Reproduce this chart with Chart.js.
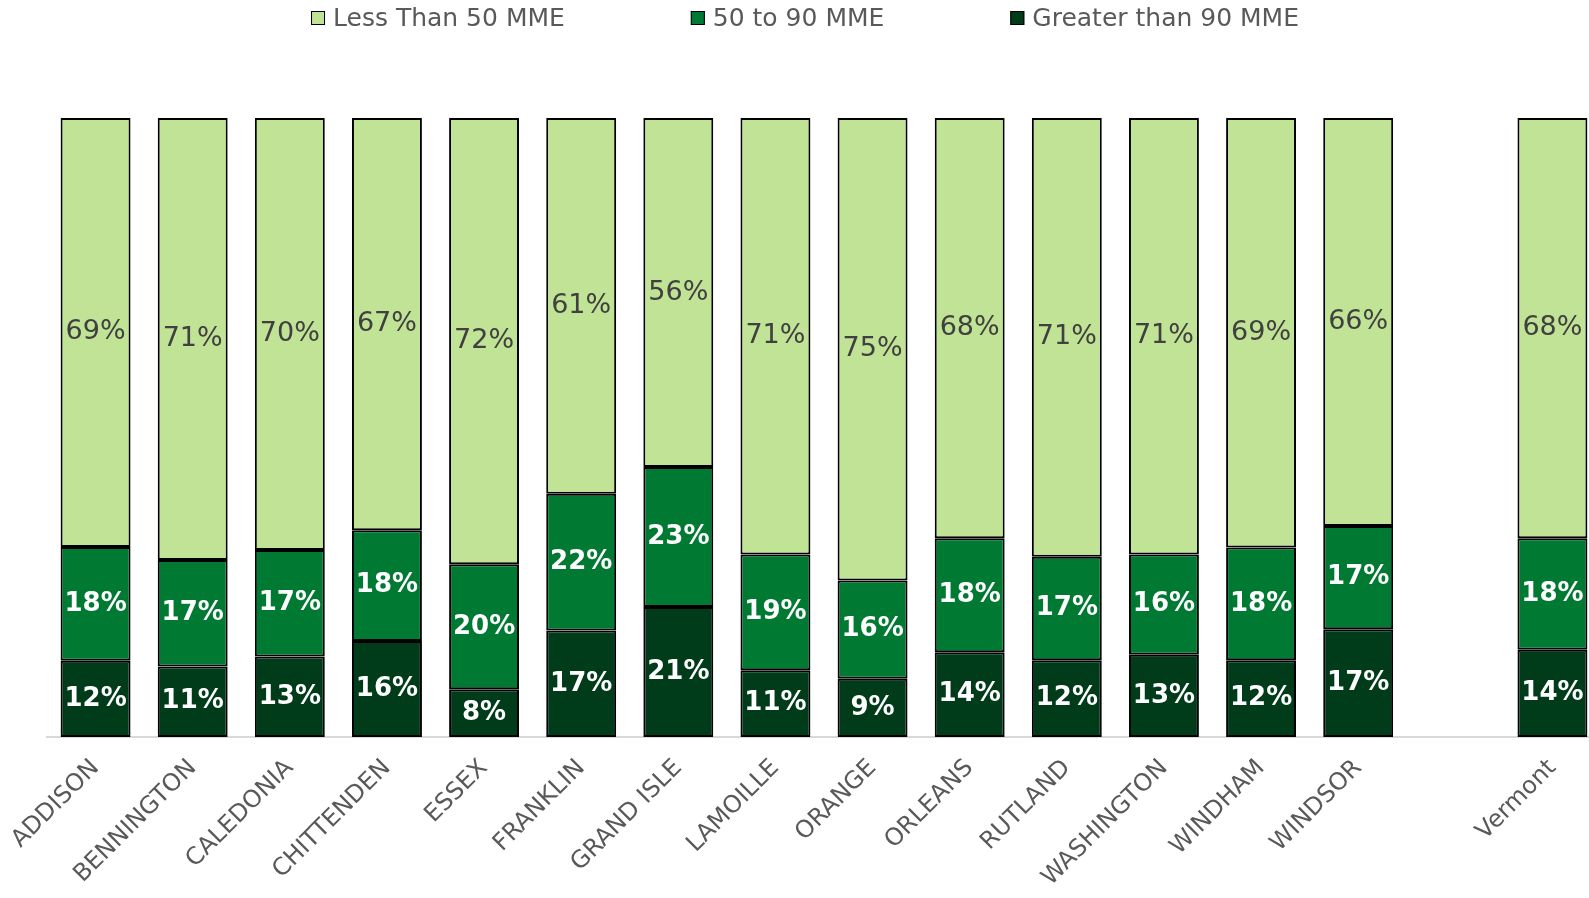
<!DOCTYPE html>
<html>
<head>
<meta charset="utf-8">
<script src="https://cdn.jsdelivr.net/npm/chart.js@4.4.1/dist/chart.umd.min.js"></script>
<style>
  html, body { margin: 0; padding: 0; background: #fff; overflow: hidden; }
  #wrap { width: 1601px; height: 898px; position: relative; }
</style>
</head>
<body>
<div id="wrap"><canvas id="myChart"></canvas></div>
<script>
// counties, with an empty slot before the state total
const counties = ['ADDISON', 'BENNINGTON', 'CALEDONIA', 'CHITTENDEN', 'ESSEX', 'FRANKLIN', 'GRAND ISLE',
  'LAMOILLE', 'ORANGE', 'ORLEANS', 'RUTLAND', 'WASHINGTON', 'WINDHAM', 'WINDSOR', '', 'Vermont'];

// percent of patients by dose level
const lessThan50 = [69.3, 71.4, 69.8, 66.6, 72.1, 60.7, 56.4, 70.5, 74.7, 67.9, 70.9, 70.5, 69.4, 65.9, null, 67.9];
const from50to90 = [18.4, 17.2, 17.2, 17.9, 20.2, 22.1, 22.6, 18.7, 15.9, 18.4, 16.7, 16.2, 18.2, 16.7, null, 18.0];
const over90     = [12.3, 11.4, 13.0, 15.5, 7.7, 17.2, 21.0, 10.8, 9.4, 13.7, 12.4, 13.3, 12.4, 17.4, null, 14.1];

const FONT = 'DejaVu Sans';

// percent labels in the middle of each segment
const segmentLabels = {
  id: 'segmentLabels',
  afterDatasetsDraw(chart) {
    const ctx = chart.ctx;
    ctx.save();
    ctx.textAlign = 'center';
    ctx.textBaseline = 'middle';
    chart.data.datasets.forEach((ds, i) => {
      const meta = chart.getDatasetMeta(i);
      meta.data.forEach((bar, j) => {
        const v = ds.data[j];
        if (v == null) return;
        const p = bar.getProps(['x', 'y', 'base'], true);
        ctx.fillStyle = ds.labelColor;
        ctx.font = ds.labelFont;
        ctx.fillText(Math.round(v) + '%', p.x, (p.y + p.base) / 2);
      });
    });
    ctx.restore();
  }
};

// legend row across the top (top segment listed first)
const topLegend = {
  id: 'topLegend',
  afterDraw(chart) {
    const ctx = chart.ctx;
    const box = 14, gapText = 8, gapItem = 126, y = 18;
    ctx.save();
    ctx.font = '25px "' + FONT + '"';
    ctx.textBaseline = 'middle';
    const items = chart.data.datasets.slice().reverse()
      .map(ds => ({ ds, w: box + gapText + ctx.measureText(ds.label).width }));
    const total = items.reduce((s, it) => s + it.w, 0) + gapItem * (items.length - 1);
    let x = 805 - total / 2;
    items.forEach(it => {
      ctx.fillStyle = it.ds.backgroundColor;
      ctx.fillRect(x, y - box / 2, box, box);
      ctx.strokeStyle = '#000';
      ctx.lineWidth = 1;
      ctx.strokeRect(x + 0.5, y - box / 2 + 0.5, box - 1, box - 1);
      ctx.fillStyle = '#595959';
      ctx.fillText(it.ds.label, x + box + gapText, y + 1);
      x += it.w + gapItem;
    });
    ctx.restore();
  }
};

new Chart(document.getElementById('myChart'), {
  type: 'bar',
  data: {
    labels: counties,
    datasets: [
      {
        label: 'Greater than 90 MME',
        data: over90,
        backgroundColor: '#003B1A',
        labelColor: '#ffffff',
        labelFont: 'bold 26px "' + FONT + '"'
      },
      {
        label: '50 to 90 MME',
        data: from50to90,
        backgroundColor: '#007A33',
        labelColor: '#ffffff',
        labelFont: 'bold 26px "' + FONT + '"'
      },
      {
        label: 'Less Than 50 MME',
        data: lessThan50,
        backgroundColor: '#C0E396',
        labelColor: '#404040',
        labelFont: '27px "' + FONT + '"'
      }
    ].map(ds => Object.assign(ds, {
      borderColor: '#000000',
      borderWidth: 2,
      borderSkipped: false,
      categoryPercentage: 1,
      barPercentage: 0.72
    }))
  },
  options: {
    responsive: true,
    maintainAspectRatio: false,
    animation: false,
    layout: { padding: { top: 118, left: 47, right: 0, bottom: 0 } },
    plugins: {
      legend: { display: false },
      tooltip: { enabled: false }
    },
    scales: {
      x: {
        stacked: true,
        grid: { display: false, drawTicks: false },
        border: { display: true, color: '#D9D9D9', width: 2 },
        ticks: {
          autoSkip: false,
          minRotation: 45,
          maxRotation: 45,
          padding: 17,
          color: '#595959',
          font: { family: FONT, size: 24 }
        },
        afterFit(scale) {
          scale.height = 161;
          scale.paddingLeft = 0;
          scale.paddingRight = 0;
        }
      },
      y: {
        stacked: true,
        display: false,
        min: 0,
        max: 100
      }
    }
  },
  plugins: [segmentLabels, topLegend]
});
</script>
</body>
</html>
